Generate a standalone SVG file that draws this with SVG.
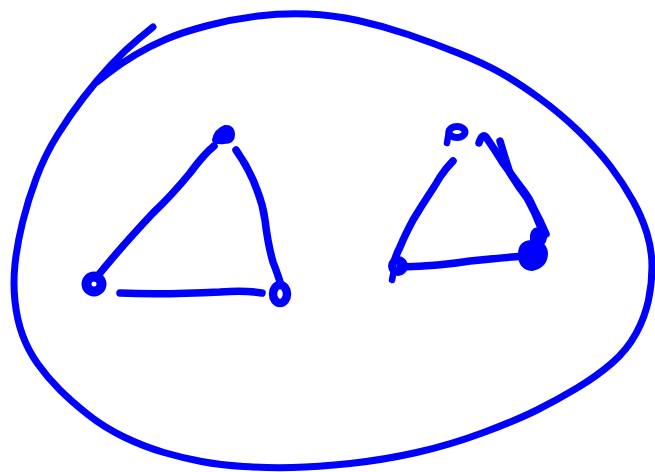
<svg xmlns="http://www.w3.org/2000/svg" width="655" height="472" viewBox="0 0 655 472">
<style>
.s{fill:none;stroke:#0000ff;stroke-linecap:round;stroke-linejoin:round}
.w{stroke-width:7.5}
.f{fill:#0000ff;stroke:#0000ff;stroke-linejoin:round;stroke-linecap:round}
</style>
<rect width="655" height="472" fill="#ffffff"/>
<g id="boundary">
<path class="s" stroke-width="7" d="M153 27 L139 38.5 Q125 50 111 65 Q97 80 83.5 97.5 Q70 115 57.5 135 Q45 155 36.5 177.5 Q28 200 22.5 222.5 Q17 245 15 264 Q13 283 15 301.5 Q17 320 22.5 335 Q28 350 37.5 363.5 Q47 377 59.5 389.5 Q72 402 88.5 415 Q105 428 125 437.5 Q145 447 164 452.5 Q183 458 201.5 461.5 Q220 465 243.5 466.5 Q267 468 292 467.5 Q317 467 350 463.5 Q383 460 416.5 452.5 Q450 445 483.5 432.5 Q517 420 537 410 Q557 400 577 388 Q597 376 612 363 Q627 350 636 333.5 Q645 317 648.5 300 Q652 283 652 266.5 Q652 250 647 233.5 Q642 217 632.5 200 Q623 183 610.5 166.5 Q598 150 579 131.5 Q560 113 538.5 97.5 Q517 82 500 72.5 Q483 63 458 53 Q433 43 408 34.5 Q383 26 358 20.5 Q333 15 308 14 Q283 13 258 16 Q233 19 208 25.5 Q183 32 166.5 39 Q150 46 135 55 Q120 64 108.5 73 L97 82"/>
</g>
<g id="connectors">
<path class="s w" d="M214 146 Q204 154 190 173 Q172 195 153 213 Q120 248 96 278"/>
<path class="s w" d="M120 293 Q160 295 220 292 Q245 290 262 293"/>
<path class="s w" d="M236 150 Q250 170 257 190 Q263 205 265 220 Q268 245 273 262 Q278 275 281 285"/>
<path class="s w" d="M453 161 Q446 168 440 177 Q436 184 432 190 Q422 205 413 220 Q405 235 400 247 Q396 255 394 262"/>
<path class="s w" d="M400 267 Q440 266 470 261 Q500 258 523 256"/>
<path class="s w" d="M479 143 Q482 133 486 137 Q495 150 503 163 Q513 177 523 190 Q530 199 533 207 Q540 220 546 234"/>
<path class="s w" d="M500 141 Q505 158 510 173 Q518 186 527 198 Q535 212 541 228"/>
</g>
<g id="node-l-top">
<path class="f" stroke-width="6" d="M215 140 Q217 131 225 128 Q232 127 232 135 Q232 141 224 141 Q219 142 215 140 Z"/>
</g>
<g id="node-l-left">
<circle cx="94" cy="284" r="7.5" fill="none" stroke="#0000ff" stroke-width="10"/>
</g>
<g id="node-l-right">
<ellipse cx="280" cy="294" rx="7" ry="9" fill="none" stroke="#0000ff" stroke-width="8.5"/>
</g>
<g id="node-r-top">
<ellipse cx="457" cy="132" rx="8" ry="5.5" fill="none" stroke="#0000ff" stroke-width="7"/>
<path class="s" stroke-width="6.5" d="M449 131 L447 143"/>
</g>
<g id="node-r-left">
<circle cx="398" cy="266" r="6" fill="none" stroke="#0000ff" stroke-width="8"/>
<path class="s" stroke-width="6.5" d="M394 270 L392 280"/>
</g>
<g id="node-r-right">
<path class="f" stroke-width="4" d="M520 254 Q520 243 531 242 Q545 242 546 253 Q546 266 532 269 Q520 268 520 254 Z"/>
<path class="f" stroke-width="4" d="M532 240 Q531 230 538 229 Q545 230 545 238 Q544 245 537 245 Q532 244 532 240 Z"/>
</g>
</svg>
